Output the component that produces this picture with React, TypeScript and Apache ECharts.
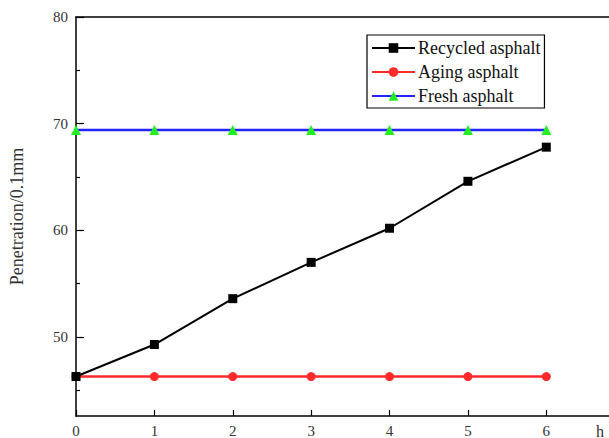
import React, { useEffect, useRef } from "react";
import * as echarts from "echarts";

const hours = [0, 1, 2, 3, 4, 5, 6];
const recycled = [46.3, 49.3, 53.6, 57.0, 60.2, 64.6, 67.8];
const aging = [46.3, 46.3, 46.3, 46.3, 46.3, 46.3, 46.3];
const fresh = [69.4, 69.4, 69.4, 69.4, 69.4, 69.4, 69.4];
const xTicks = [0, 1, 2, 3, 4, 5, 6];
const yMajor = [50, 60, 70, 80];
const yMinor = [45, 55, 65, 75];

const FONT = "Liberation Serif";

export default function App() {
  const ref = useRef<HTMLDivElement>(null);
  useEffect(() => {
    if (!ref.current) return;
    const chart = echarts.init(ref.current, undefined, { renderer: "svg" });
    const pair = (vals: number[]) => hours.map((h, i) => [h, vals[i]]);
    chart.setOption({
      animation: false,
      backgroundColor: "#fff",
      grid: { left: 76, top: 17, right: 0, bottom: 21 },
      xAxis: [
        {
          type: "value",
          min: 0,
          max: 6.8,
          position: "bottom",
          axisLine: { show: true, lineStyle: { color: "#000", width: 1.5 } },
          axisTick: { show: true, inside: true, length: 6, customValues: xTicks, lineStyle: { color: "#000", width: 1.2 } },
          axisLabel: { customValues: xTicks, color: "#333", fontFamily: FONT, fontSize: 15, margin: 7 },
          splitLine: { show: false },
        },
        {
          type: "value",
          min: 0,
          max: 6.8,
          position: "top",
          axisLine: { show: true, onZero: false, lineStyle: { color: "#000", width: 1.5 } },
          axisTick: { show: false },
          axisLabel: { show: false },
          splitLine: { show: false },
        },
      ],
      yAxis: [
        {
          type: "value",
          min: 42.6,
          max: 80,
          name: "Penetration/0.1mm",
          nameLocation: "middle",
          nameGap: 50,
          nameTextStyle: { color: "#333", fontFamily: FONT, fontSize: 18 },
          axisLine: { show: true, lineStyle: { color: "#000", width: 1.5 } },
          axisTick: { show: true, inside: true, length: 8, customValues: yMajor, lineStyle: { color: "#000", width: 1.2 } },
          axisLabel: { customValues: yMajor, color: "#333", fontFamily: FONT, fontSize: 15, margin: 8 },
          splitLine: { show: false },
        },
        {
          type: "value",
          min: 42.6,
          max: 80,
          position: "left",
          axisLine: { show: false },
          axisTick: { show: true, inside: true, length: 4, customValues: yMinor, lineStyle: { color: "#000", width: 1.2 } },
          axisLabel: { show: false },
          splitLine: { show: false },
        },
      ],
      legend: {
        orient: "vertical",
        left: 367,
        top: 35,
        width: 182,
        itemWidth: 43,
        itemHeight: 12,
        itemGap: 6,
        padding: [4, 4, 3, 4],
        borderColor: "#000",
        borderWidth: 1.2,
        backgroundColor: "#fff",
        textStyle: { color: "#111", fontFamily: FONT, fontSize: 18, padding: [0, 0, 0, -2] },
        data: ["Recycled asphalt", "Aging asphalt", "Fresh asphalt"],
      },
      graphic: [
        {
          type: "text",
          left: 596,
          top: 423,
          style: { text: "h", fontFamily: FONT, fontSize: 16, fill: "#333" },
        },
      ],
      series: [
        {
          name: "Fresh asphalt",
          type: "line",
          data: pair(fresh),
          symbol: "triangle",
          symbolSize: 10,
          lineStyle: { color: "#2424ff", width: 2.5 },
          itemStyle: { color: "#22ee22" },
          z: 3,
        },
        {
          name: "Aging asphalt",
          type: "line",
          data: pair(aging),
          symbol: "circle",
          symbolSize: 9,
          lineStyle: { color: "#ff2a2a", width: 2.5 },
          itemStyle: { color: "#ff2a2a" },
          z: 3,
        },
        {
          name: "Recycled asphalt",
          type: "line",
          data: pair(recycled),
          symbol: "rect",
          symbolSize: 9,
          lineStyle: { color: "#000", width: 2 },
          itemStyle: { color: "#000" },
          z: 4,
        },
      ],
    });
    return () => chart.dispose();
  }, []);
  return <div ref={ref} style={{ width: 609, height: 438, position: "absolute", left: 0, top: 0 }} />;
}
